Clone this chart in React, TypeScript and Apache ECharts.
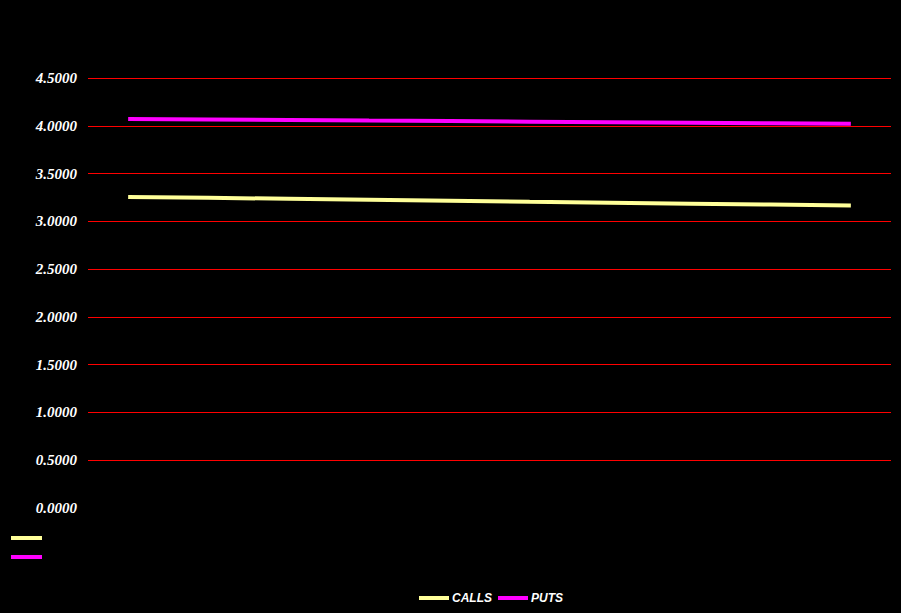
import React, { useEffect, useRef } from "react";
import * as echarts from "echarts";

const categories = ["1", "2", "3", "4", "5", "6", "7", "8", "9", "10"];
const callsValues = [3.255, 3.246, 3.236, 3.226, 3.216, 3.205, 3.195, 3.185, 3.175, 3.165];
const putsValues = [4.071, 4.066, 4.060, 4.054, 4.049, 4.043, 4.037, 4.031, 4.026, 4.020];
const seriesNames = ["CALLS", "PUTS"];
const seriesColors = ["#FFFF99", "#FF00FF"];

export default function App() {
  const ref = useRef<HTMLDivElement>(null);
  useEffect(() => {
    if (!ref.current) return;
    const chart = echarts.init(ref.current, null, { renderer: "svg" });
    const gridColors = ["rgba(0,0,0,0)", "#FF0000", "#FF0000", "#FF0000", "#FF0000", "#FF0000", "#FF0000", "#FF0000", "#FF0000", "#FF0000"];
    chart.setOption({
      animation: false,
      backgroundColor: "#000000",
      grid: { left: 88, right: 10, top: 78, bottom: 105 },
      legend: {
        data: seriesNames.map((n) => ({ name: n, icon: "rect" })),
        left: 419,
        top: 592,
        padding: 0,
        itemWidth: 30,
        itemHeight: 4,
        itemGap: 6,
        textStyle: {
          color: "#FFFFFF",
          fontFamily: "Liberation Sans",
          fontWeight: "bold",
          fontStyle: "italic",
          fontSize: 12,
          padding: [0, 0, 0, -2],
        },
      },
      xAxis: {
        type: "category",
        data: categories,
        boundaryGap: true,
        axisLine: { show: false },
        axisTick: { show: false },
        axisLabel: { show: false },
        splitLine: { show: false },
      },
      yAxis: {
        type: "value",
        min: 0,
        max: 4.5,
        interval: 0.5,
        axisLine: { show: false },
        axisTick: { show: false },
        axisLabel: {
          color: "#FFFFFF",
          fontFamily: "Liberation Serif",
          fontWeight: "bold",
          fontStyle: "italic",
          fontSize: 15,
          margin: 11,
          formatter: (v: number) => v.toFixed(4),
        },
        splitLine: { show: true, lineStyle: { color: gridColors, width: 1 } },
      },
      series: [
        {
          name: seriesNames[0],
          type: "line",
          data: callsValues,
          showSymbol: false,
          symbol: "none",
          lineStyle: { color: seriesColors[0], width: 4 },
          itemStyle: { color: seriesColors[0] },
        },
        {
          name: seriesNames[1],
          type: "line",
          data: putsValues,
          showSymbol: false,
          symbol: "none",
          lineStyle: { color: seriesColors[1], width: 4 },
          itemStyle: { color: seriesColors[1] },
        },
      ],
      graphic: [
        { type: "rect", shape: { x: 11, y: 536, width: 31, height: 4 }, style: { fill: seriesColors[0] } },
        { type: "rect", shape: { x: 11, y: 555, width: 31, height: 4 }, style: { fill: seriesColors[1] } },
      ],
    });
    return () => chart.dispose();
  }, []);
  return (
    <div
      ref={ref}
      style={{ position: "fixed", left: 0, top: 0, width: 901, height: 613 }}
    />
  );
}
